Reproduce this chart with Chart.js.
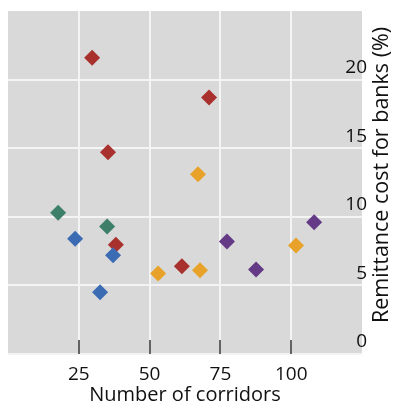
<!DOCTYPE html>
<html>
<head>
<meta charset="utf-8">
<script src="https://cdn.jsdelivr.net/npm/chart.js@4"></script>
<style>
  html, body { margin: 0; padding: 0; background: #fff; }
  #wrap { width: 393px; height: 412px; }
</style>
</head>
<body>
<div id="wrap"><canvas id="chart"></canvas></div>
<script>
// values
const blueX = [23.7, 37.1, 32.5];
const blueY = [8.4, 7.2, 4.5];
const greenX = [17.7, 35.0];
const greenY = [10.3, 9.3];
const purpleX = [77.3, 87.6, 108.1];
const purpleY = [8.2, 6.15, 9.6];
const orangeX = [67.1, 53.0, 67.8, 101.7];
const orangeY = [13.1, 5.86, 6.1, 7.9];
const redX = [29.7, 35.3, 71.0, 38.1, 61.4];
const redY = [21.6, 14.7, 18.7, 7.97, 6.4];

const xTicks = [25, 50, 75, 100];
const yTicks = [0, 5, 10, 15, 20];
const xTitle = 'Number of corridors';
const yTitle = 'Remittance cost for banks (%)';

const FONT = '"Open Sans", "Noto Sans", sans-serif';

function pts(xs, ys) {
    return xs.map((x, i) => ({ x: x, y: ys[i] }));
}

function series(xs, ys, color) {
    return {
        data: pts(xs, ys),
        pointStyle: 'rectRot',
        pointRadius: 8,
        pointHoverRadius: 8,
        borderWidth: 0,
        backgroundColor: color,
        borderColor: color
    };
}

// grey panel + tick marks inside the plot + rotated y title
const panel = {
    id: 'panel',
    beforeDraw(chart) {
        const { ctx, chartArea: a } = chart;
        ctx.save();
        ctx.fillStyle = '#d9d9d9';
        ctx.fillRect(a.left, a.top, a.right - a.left, a.bottom - a.top);
        ctx.restore();
    },
    afterDatasetsDraw(chart) {
        const { ctx, chartArea: a, scales } = chart;
        ctx.save();
        ctx.strokeStyle = '#333';
        ctx.lineWidth = 1.5;
        xTicks.forEach(v => {
            const px = Math.round(scales.x.getPixelForValue(v));
            ctx.beginPath();
            ctx.moveTo(px, a.bottom);
            ctx.lineTo(px, a.bottom - 14);
            ctx.stroke();
        });
        ctx.restore();
    },
    afterDraw(chart) {
        const { ctx } = chart;
        ctx.save();
        ctx.translate(382, 175);
        ctx.rotate(-Math.PI / 2);
        ctx.fillStyle = '#111';
        ctx.font = '21.5px ' + FONT;
        ctx.textAlign = 'center';
        ctx.textBaseline = 'middle';
        ctx.fillText(yTitle, 0, 0);
        ctx.restore();
    }
};

new Chart(document.getElementById('chart'), {
    type: 'scatter',
    data: {
        datasets: [
            series(blueX, blueY, '#3b6bb3'),
            series(greenX, greenY, '#3e7f6a'),
            series(purpleX, purpleY, '#643a87'),
            series(orangeX, orangeY, '#e9a229'),
            series(redX, redY, '#a9312d')
        ]
    },
    options: {
        responsive: true,
        maintainAspectRatio: false,
        animation: false,
        layout: { padding: { left: 8, top: 11, right: 0, bottom: 0 } },
        plugins: { legend: { display: false }, tooltip: { enabled: false } },
        scales: {
            x: {
                type: 'linear',
                min: 0,
                max: 125,
                afterBuildTicks: s => { s.ticks = xTicks.map(v => ({ value: v })); },
                afterFit: s => { s.height = 58; s.paddingLeft = 0; s.paddingRight = 0; },
                border: { display: false },
                grid: { color: '#f4f4f4', lineWidth: 2, drawTicks: false },
                ticks: { color: '#111', padding: 9, font: { family: FONT, size: 19 } },
                title: {
                    display: true,
                    text: xTitle,
                    color: '#111',
                    padding: { top: 0, bottom: 5 },
                    font: { family: FONT, size: 20 }
                }
            },
            y: {
                type: 'linear',
                position: 'right',
                min: 0,
                max: 25,
                afterBuildTicks: s => { s.ticks = yTicks.map(v => ({ value: v })); },
                afterFit: s => { s.width = 31; s.paddingTop = 0; s.paddingBottom = 0; },
                border: { display: false },
                grid: { color: '#f4f4f4', lineWidth: 2, drawTicks: false },
                ticks: {
                    mirror: true,
                    padding: 5,
                    labelOffset: -12,
                    color: '#111',
                    font: { family: FONT, size: 19 }
                }
            }
        }
    },
    plugins: [panel]
});
</script>
</body>
</html>
